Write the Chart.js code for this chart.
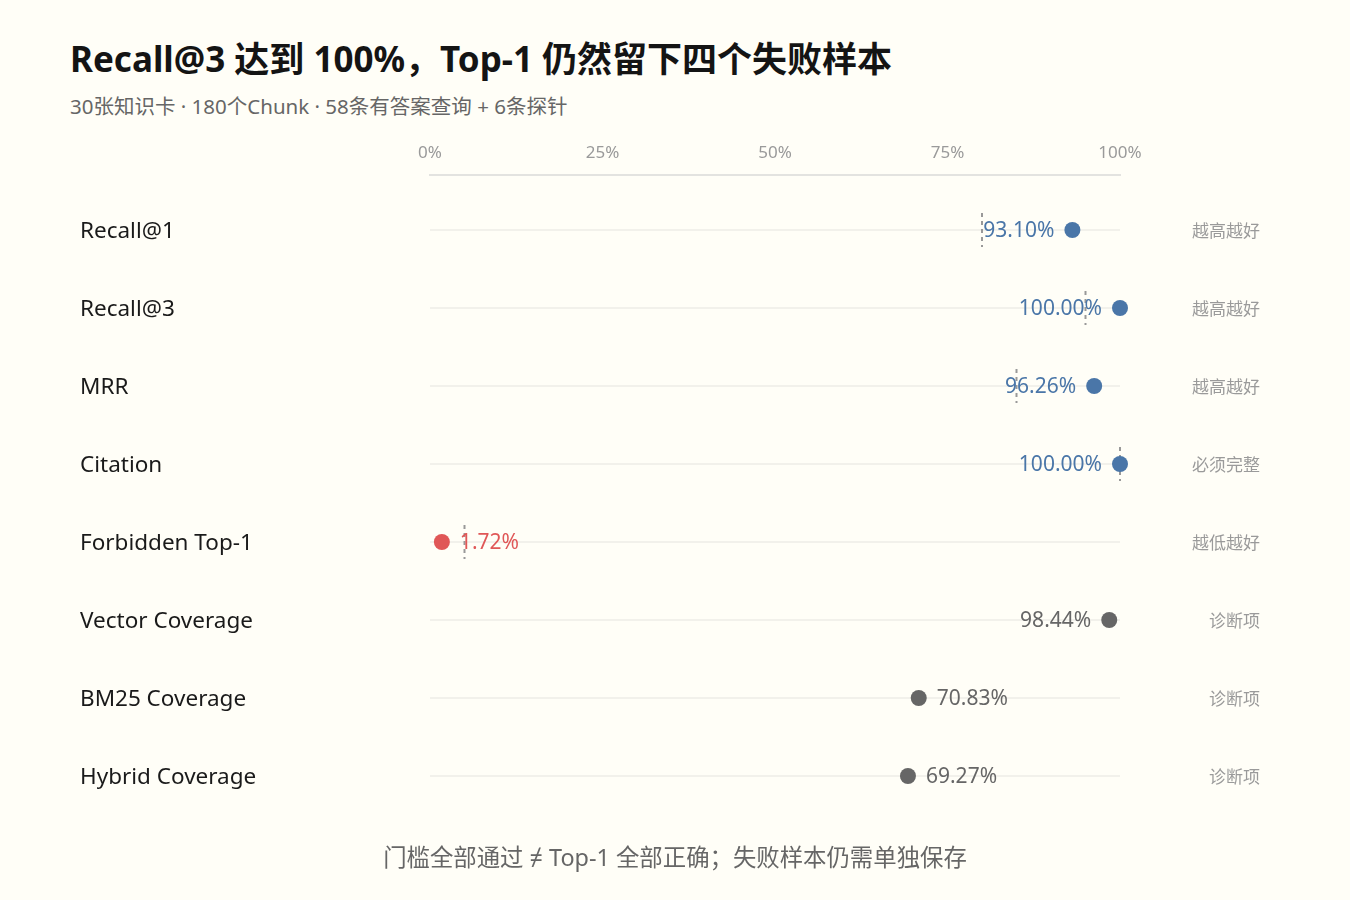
<!DOCTYPE html>
<html>
<head>
<meta charset="utf-8">
<script src="https://cdn.jsdelivr.net/npm/chart.js@4/dist/chart.umd.min.js"></script>
<style>
  body { margin: 0; background: #fffef7; }
  #wrap { position: relative; width: 1350px; height: 900px; background: #fffef7;
          font-family: "Noto Sans", "Noto Sans CJK SC", sans-serif; }
  #title { position: absolute; left: 70px; top: 31px; margin: 0; font-size: 35px; font-weight: 700; color: #141414; }
  #sub { position: absolute; left: 70px; top: 90px; margin: 0; font-size: 20.5px; color: #666; }
  #foot { position: absolute; left: 0; width: 1350px; top: 839px; margin: 0; text-align: center; font-size: 23.4px; color: #666; }
  canvas { position: absolute; left: 0; top: 0; }
</style>
</head>
<body>
<div id="wrap">
  <h1 id="title">Recall@3 达到 100%，Top-1 仍然留下四个失败样本</h1>
  <p id="sub">30张知识卡 · 180个Chunk · 58条有答案查询 + 6条探针</p>
  <canvas id="myChart" width="1350" height="900"></canvas>
  <p id="foot">门槛全部通过 ≠ Top-1 全部正确；失败样本仍需单独保存</p>
</div>
<script>
// dados
var metrics = ['Recall@1', 'Recall@3', 'MRR', 'Citation', 'Forbidden Top-1', 'Vector Coverage', 'BM25 Coverage', 'Hybrid Coverage'];
var values = [93.10, 100.00, 96.26, 100.00, 1.72, 98.44, 70.83, 69.27];
var thresholds = [80, 95, 85, 100, 5, null, null, null];
var notes = ['越高越好', '越高越好', '越高越好', '必须完整', '越低越好', '诊断项', '诊断项', '诊断项'];
var xTicks = [0, 25, 50, 75, 100];

var FONT = '"Noto Sans", "Noto Sans CJK SC", sans-serif';

function colorFor(i) {
    if (notes[i] == '越低越好') return '#e05757';
    if (notes[i] == '诊断项') return '#666666';
    return '#4a76a8';
}

function rowTicks(scale) {
    scale.ticks = metrics.map((m, i) => ({ value: i }));
}

// linhas de meta (tracejadas)
const thresholdLines = {
    id: 'thresholdLines',
    beforeDatasetsDraw(chart) {
        const ctx = chart.ctx;
        const xs = chart.scales.x, ys = chart.scales.y;
        ctx.save();
        ctx.strokeStyle = '#999999';
        ctx.lineWidth = 2;
        ctx.setLineDash([4, 4]);
        thresholds.forEach((t, i) => {
            if (t == null) return;
            const x = xs.getPixelForValue(t);
            const y = ys.getPixelForValue(i);
            ctx.beginPath();
            ctx.moveTo(x, y - 17);
            ctx.lineTo(x, y + 17);
            ctx.stroke();
        });
        ctx.restore();
    }
};

// rotulos de valor
const valueLabels = {
    id: 'valueLabels',
    afterDatasetsDraw(chart) {
        const ctx = chart.ctx;
        const meta = chart.getDatasetMeta(0);
        ctx.save();
        ctx.font = '21px ' + FONT;
        ctx.textBaseline = 'middle';
        meta.data.forEach((pt, i) => {
            const v = values[i];
            const left = v >= 90;
            ctx.textAlign = left ? 'right' : 'left';
            ctx.fillStyle = colorFor(i);
            ctx.fillText(v.toFixed(2) + '%', pt.x + (left ? -18 : 18), pt.y + 1);
        });
        ctx.restore();
    }
};

const data = {
    datasets: [{
        data: values.map((v, i) => ({ x: v, y: i })),
        pointRadius: 8,
        pointHoverRadius: 8,
        pointBackgroundColor: values.map((v, i) => colorFor(i)),
        pointBorderWidth: 0,
        clip: false
    }]
};

const config = {
    type: 'scatter',
    data,
    plugins: [thresholdLines, valueLabels],
    options: {
        responsive: false,
        animation: false,
        layout: { padding: { left: 80, right: 90, top: 130, bottom: 85 } },
        plugins: {
            legend: { display: false },
            tooltip: { enabled: false },
            title: { display: false }
        },
        scales: {
            x: {
                type: 'linear',
                position: 'top',
                min: 0,
                max: 100,
                afterBuildTicks: (scale) => { scale.ticks = xTicks.map(v => ({ value: v })); },
                afterFit: (scale) => { scale.height = 45; },
                ticks: {
                    padding: 12,
                    color: '#9a9a9a',
                    font: { family: FONT, size: 17 },
                    callback: (v) => v + '%'
                },
                grid: { drawOnChartArea: false, drawTicks: false },
                border: { color: '#e3e3e0', width: 2 }
            },
            y: {
                type: 'linear',
                position: 'left',
                reverse: true,
                min: -0.705,
                max: 7.5,
                afterBuildTicks: rowTicks,
                afterFit: (scale) => { scale.width = 350; },
                ticks: {
                    crossAlign: 'far',
                    labelOffset: 2,
                    color: '#1a1a1a',
                    font: { family: FONT, size: 22.5 },
                    callback: (v) => metrics[v]
                },
                grid: { color: '#f2f1eb', lineWidth: 2, drawTicks: false },
                border: { display: false }
            },
            notes: {
                type: 'linear',
                position: 'right',
                reverse: true,
                min: -0.705,
                max: 7.5,
                afterBuildTicks: rowTicks,
                afterFit: (scale) => { scale.width = 140; },
                ticks: {
                    crossAlign: 'far',
                    labelOffset: 2,
                    color: '#9a9a9a',
                    font: { family: FONT, size: 17 },
                    callback: (v) => notes[v]
                },
                grid: { display: false },
                border: { display: false }
            }
        }
    }
};

var myChart = new Chart(document.getElementById('myChart'), config);
</script>
</body>
</html>
